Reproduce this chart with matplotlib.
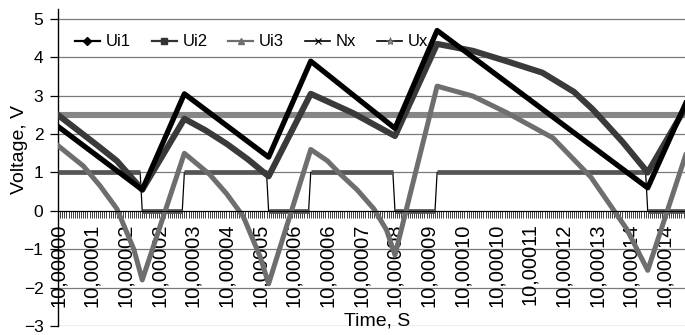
import matplotlib
matplotlib.use('Agg')
import matplotlib.pyplot as plt
from matplotlib.lines import Line2D
from matplotlib.ticker import MultipleLocator, FixedLocator, FixedFormatter

plt.rcParams['font.family'] = ['Liberation Sans', 'DejaVu Sans']

# breakpoints, x = sample number (one sample = 0.5 us)
ui1_x = [0, 40, 60, 100, 120, 160, 180, 280, 298]
ui1_y = [2.2, 0.55, 3.05, 1.4, 3.9, 2.15, 4.7, 0.6, 2.8]

ui2_x = [0, 20, 28, 40, 60, 70, 80, 90, 100, 120, 130, 140, 150, 160,
         180, 197, 213, 230, 245, 254, 268, 280, 298]
ui2_y = [2.5, 1.65, 1.3, 0.55, 2.4, 2.1, 1.75, 1.35, 0.9, 3.05, 2.8, 2.55, 2.25, 1.95,
         4.35, 4.17, 3.9, 3.6, 3.1, 2.64, 1.8, 1.0, 2.7]

ui3_x = [0, 12, 20, 28, 36, 40, 60, 72, 80, 88, 96, 100, 120, 128, 134, 142, 150, 156, 160,
         180, 197, 213, 235, 253, 270, 280, 298]
ui3_y = [1.7, 1.17, 0.65, 0.05, -1.0, -1.8, 1.5, 0.95, 0.45, -0.15, -1.2, -1.9, 1.6, 1.3, 0.96,
         0.55, 0.05, -0.5, -1.15, 3.25, 2.99, 2.56, 1.9, 0.88, -0.47, -1.55, 1.45]

nx_x = [0, 39, 40, 59, 60, 99, 100, 119, 120, 159, 160, 179, 180, 279, 280, 298]
nx_y = [1, 1, 0, 0, 1, 1, 0, 0, 1, 1, 0, 0, 1, 1, 0, 0]

ux_x = [0, 298]
ux_y = [2.5, 2.5]

time_labels = ['10,00000', '10,00001', '10,00002', '10,00002', '10,00003', '10,00004',
               '10,00005', '10,00006', '10,00006', '10,00007', '10,00008', '10,00009',
               '10,00010', '10,00010', '10,00011', '10,00012', '10,00013', '10,00014',
               '10,00014']
label_every = 16  # samples between category labels

fig = plt.figure(figsize=(6.85, 3.35), dpi=100)
ax = fig.add_axes([58 / 685, 9 / 335, 627 / 685, 317 / 335])

ax.set_xlim(0, 297.7)
ax.set_ylim(-3, 5.26)

for y in range(-3, 6):
    ax.axhline(y, color='#7a7a7a', lw=0.9, zorder=1)

# Ux and Nx under the Ui curves
ax.plot(ux_x, ux_y, color='#868686', lw=4.4, solid_capstyle='butt', zorder=2)
ax.plot(nx_x, nx_y, color='black', lw=0.9, zorder=3)
for i in range(len(nx_x) - 1):
    if nx_y[i] == nx_y[i + 1]:
        ax.plot(nx_x[i:i + 2], nx_y[i:i + 2], color='#555555', lw=3.4,
                solid_capstyle='butt', zorder=3)
ax.plot(ui3_x, ui3_y, color='#6e6e6e', lw=3.6, zorder=4)
ax.plot(ui2_x, ui2_y, color='#3a3a3a', lw=4.4, zorder=5)
ax.plot(ui1_x, ui1_y, color='black', lw=3.8, zorder=6)

for s in ['top', 'right']:
    ax.spines[s].set_visible(False)
ax.spines['bottom'].set_position(('data', 0))
ax.spines['bottom'].set_zorder(7)
ax.spines['left'].set_linewidth(1.0)

ax.set_yticks(range(-3, 6))
ax.tick_params(axis='y', direction='out', length=5.5, width=0.9, pad=5, labelsize=12.5)

ticks = [label_every * k for k in range(len(time_labels))]
ax.xaxis.set_major_locator(FixedLocator(ticks))
ax.xaxis.set_major_formatter(FixedFormatter(time_labels))
ax.xaxis.set_minor_locator(MultipleLocator(1))
ax.tick_params(axis='x', which='both', direction='out', length=5, width=0.6, color='#202020')
ax.tick_params(axis='x', which='major', labelsize=14.5, labelrotation=90, pad=4)

fig.text(20 / 685, 1 - 150 / 335, 'Voltage, V', rotation=90, ha='center', va='center', fontsize=14)
fig.text(377 / 685, 1 - 321 / 335, 'Time, S', ha='center', va='center', fontsize=14)

handles = [
    Line2D([], [], color='black', lw=1.6, marker='D', markersize=4),
    Line2D([], [], color='#333333', lw=1.6, marker='s', markersize=4),
    Line2D([], [], color='#6e6e6e', lw=1.6, marker='^', markersize=4),
    Line2D([], [], color='black', lw=1.2, marker='x', markersize=4, markeredgewidth=0.8),
    Line2D([], [], color='black', lw=1.2, marker='*', markersize=6, markeredgewidth=0.5,
           markerfacecolor='#888888', markeredgecolor='#555555'),
]
leg = ax.legend(handles, ['Ui1', 'Ui2', 'Ui3', 'Nx', 'Ux'], loc='center left',
                bbox_to_anchor=(0.027, (326 - 42) / 317), ncol=5, frameon=False,
                fontsize=12, handlelength=1.5, handletextpad=0.35, columnspacing=1.25,
                borderpad=0, borderaxespad=0)
leg.set_zorder(10)

fig.savefig('out.png', dpi=100)
